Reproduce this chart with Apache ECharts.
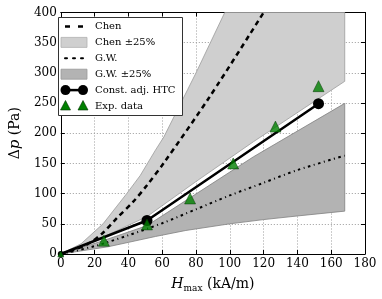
<!DOCTYPE html>
<html>
<head>
<meta charset="utf-8">
<script src="https://cdn.jsdelivr.net/npm/echarts@6/dist/echarts.min.js"></script>
<style>html,body{margin:0;padding:0;background:#fff}#c{width:382px;height:299px}</style>
</head>
<body>
<div id="c"></div>
<script>
// ---- data ----
const xTicks = [0, 20, 40, 60, 80, 100, 120, 140, 160, 180];
const yTicks = [0, 50, 100, 150, 200, 250, 300, 350, 400];

const chenX = [0, 15, 24.5, 33, 43, 51, 61, 88, 120];
const chenY = [0, 15, 34, 59, 87, 114, 151, 260, 400];

const chenBandUpX = [0, 12, 25, 39, 47, 56, 61, 75, 80, 97, 168];
const chenBandUpY = [0, 17, 50, 100, 130, 172, 194, 272, 300, 400, 400];
const chenBandLowX = [0, 25, 51, 80, 114, 168];
const chenBandLowY = [0, 28, 62, 120, 186, 286];

const gwX = [0, 20, 40, 60, 80, 100, 120, 140, 168];
const gwY = [0, 13, 31, 51, 74, 97, 118, 139, 163];

const gwBandUpX = [0, 25, 51, 114, 168];
const gwBandUpY = [0, 22, 47, 161, 249.5];
const gwBandLowX = [0, 28, 56, 74, 100, 120, 140, 168];
const gwBandLowY = [0, 12, 29, 39, 50, 57, 63, 71];

const htcX = [0, 51, 152.5];
const htcY = [0, 55.5, 249];

const expX = [0, 25.5, 51, 76.5, 102, 127, 152.5];
const expY = [0, 22, 49, 92, 150, 211, 278];

const legendLabels = ['Chen', 'Chen \u00b125%', 'G.W.', 'G.W. \u00b125%', 'Const. adj. HTC', 'Exp. data'];

// ---- helpers ----
const zip = (xs, ys) => xs.map((x, i) => [x, ys[i]]);
const FONT = 'DejaVu Serif';

function band(name, upX, upY, lowX, lowY, fill, stroke) {
  const up = zip(upX, upY);
  const low = zip(lowX, lowY).reverse();
  return {
    name: name, type: 'custom', coordinateSystem: 'cartesian2d', silent: true, z: 1,
    data: [[0, 0]],
    renderItem: function (params, api) {
      const pts = up.concat(low).map(p => api.coord(p));
      return { type: 'polygon', shape: { points: pts },
        style: { fill: fill, stroke: stroke, lineWidth: 0.8 } };
    }
  };
}

const chart = echarts.init(document.getElementById('c'), null, { renderer: 'canvas' });

const axisLineStyle = { show: true, onZero: false, lineStyle: { color: '#000', width: 1 } };
const tick = { show: true, inside: true, length: 4, lineStyle: { color: '#000', width: 1 } };
const grid = { show: true, lineStyle: { color: '#9a9a9a', width: 1, type: [1, 2] } };

// legend graphic
const L = { x: 58, y: 17, w: 124, h: 98, hx0: 61, hx1: 87, tx: 95, row0: 26.5, dy: 15.9 };
const leg = [];
leg.push({ type: 'rect', shape: { x: L.x + 0.5, y: L.y + 0.5, width: L.w, height: L.h },
  style: { fill: '#fff', stroke: '#333', lineWidth: 1 }, z: 100 });
const ry = i => L.row0 + i * L.dy;
leg.push({ type: 'line', shape: { x1: 65, y1: ry(0), x2: 87, y2: ry(0) },
  style: { stroke: '#000', lineWidth: 2.5, lineDash: [5, 8] }, z: 101 });
leg.push({ type: 'rect', shape: { x: L.hx0, y: ry(1) - 5, width: L.hx1 - L.hx0, height: 10 },
  style: { fill: '#cfcfcf', stroke: '#b0b0b0', lineWidth: 0.8 }, z: 101 });
leg.push({ type: 'line', shape: { x1: 65, y1: ry(2), x2: 87, y2: ry(2) },
  style: { stroke: '#000', lineWidth: 2, lineDash: [2, 6], lineCap: 'round' }, z: 101 });
leg.push({ type: 'rect', shape: { x: L.hx0, y: ry(3) - 5, width: L.hx1 - L.hx0, height: 10 },
  style: { fill: '#b3b3b3', stroke: '#999', lineWidth: 0.8 }, z: 101 });
leg.push({ type: 'line', shape: { x1: 65, y1: ry(4), x2: 83, y2: ry(4) },
  style: { stroke: '#000', lineWidth: 2.5 }, z: 101 });
leg.push({ type: 'circle', shape: { cx: 65.5, cy: ry(4), r: 5 }, style: { fill: '#000' }, z: 102 });
leg.push({ type: 'circle', shape: { cx: 83, cy: ry(4), r: 5 }, style: { fill: '#000' }, z: 102 });
[65.5, 83].forEach(cx => {
  const cy = ry(5);
  leg.push({ type: 'polygon', shape: { points: [[cx, cy - 5.5], [cx - 5, cy + 4], [cx + 5, cy + 4]] },
    style: { fill: '#008000', stroke: '#003300', lineWidth: 0.6 }, z: 102 });
});
legendLabels.forEach((t, i) => {
  leg.push({ type: 'text', x: L.tx, y: ry(i), z: 102,
    style: { text: t, fontFamily: FONT, fontSize: 10, fill: '#000', verticalAlign: 'middle', align: 'left' } });
});

// markers at the origin are mostly hidden by the axes in the reference
const markerSize = (full, small) => (v) => (v[0] === 0 ? small : full);

const option = {
  animation: false,
  backgroundColor: '#fff',
  grid: { left: 52, right: 17, top: 12.5, bottom: 45 },
  xAxis: [
    { type: 'value', min: xTicks[0], max: xTicks[xTicks.length - 1], interval: 20,
      axisLine: axisLineStyle, axisTick: tick, splitLine: grid,
      axisLabel: { fontFamily: FONT, fontSize: 12, color: '#000', margin: 4 },
      name: '{i|H}{s|max} (kA/m)', nameLocation: 'middle', nameGap: 21,
      nameTextStyle: { fontFamily: FONT, fontSize: 14, color: '#000', lineHeight: 18,
        rich: { i: { fontFamily: FONT, fontStyle: 'italic', fontSize: 14, lineHeight: 18 },
                s: { fontFamily: FONT, fontSize: 9, verticalAlign: 'bottom', lineHeight: 18 } } } },
    { type: 'value', position: 'top', min: 0, max: 180, interval: 20,
      axisLine: axisLineStyle, axisTick: tick, axisLabel: { show: false }, splitLine: { show: false } }
  ],
  yAxis: [
    { type: 'value', min: yTicks[0], max: yTicks[yTicks.length - 1], interval: 50,
      axisLine: axisLineStyle, axisTick: tick, splitLine: grid,
      axisLabel: { fontFamily: FONT, fontSize: 12, color: '#000', margin: 4 },
      name: '\u0394{i|p} (Pa)', nameLocation: 'middle', nameGap: 31,
      nameTextStyle: { fontFamily: FONT, fontSize: 14, color: '#000',
        rich: { i: { fontFamily: FONT, fontStyle: 'italic', fontSize: 15 } } } },
    { type: 'value', position: 'right', min: 0, max: 400, interval: 50,
      axisLine: axisLineStyle, axisTick: tick, axisLabel: { show: false }, splitLine: { show: false } }
  ],
  graphic: leg,
  series: [
    band('Chen \u00b125%', chenBandUpX, chenBandUpY, chenBandLowX, chenBandLowY, '#cfcfcf', '#9a9a9a'),
    band('G.W. \u00b125%', gwBandUpX, gwBandUpY, gwBandLowX, gwBandLowY, '#b3b3b3', '#808080'),
    { name: 'Chen', type: 'line', data: zip(chenX, chenY), showSymbol: false, smooth: 0.3, z: 3,
      lineStyle: { color: '#000', width: 2.5, type: [5, 4], cap: 'butt' } },
    { name: 'G.W.', type: 'line', data: zip(gwX, gwY), showSymbol: false, smooth: 0.3, z: 3,
      lineStyle: { color: '#000', width: 2, type: [2.5, 3.5, 1, 3.5] } },
    { name: 'Const. adj. HTC', type: 'line', data: zip(htcX, htcY), z: 4,
      symbol: 'circle', symbolSize: markerSize(11, 6), itemStyle: { color: '#000' },
      lineStyle: { color: '#000', width: 2.5 } },
    { name: 'Exp. data', type: 'scatter', data: zip(expX, expY), z: 5,
      symbol: 'triangle', symbolSize: markerSize(11, 6),
      itemStyle: { color: '#008000', borderColor: '#003300', borderWidth: 0.6 } }
  ]
};
chart.setOption(option);
</script>
</body>
</html>
